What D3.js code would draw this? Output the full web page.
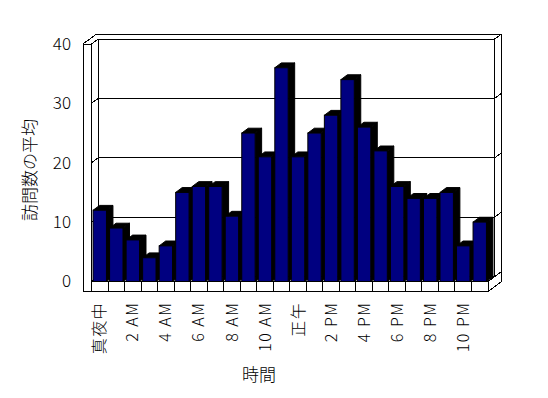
<!DOCTYPE html>
<html>
<head>
<meta charset="utf-8">
<script src="https://cdn.jsdelivr.net/npm/d3@7"></script>
<style>
  body { margin: 0; background: #fff; }
  svg { display: block; }
  .lbl text { font-family: "Noto Sans CJK JP", "Noto Sans", sans-serif; font-size: 16px; font-weight: 300; fill: #000; }
</style>
</head>
<body>
<div id="chart"></div>
<script>
// hours of the day (every other one gets a label)
const hours = ["真夜中", "1 AM", "2 AM", "3 AM", "4 AM", "5 AM", "6 AM", "7 AM", "8 AM", "9 AM", "10 AM", "11 AM",
               "正午", "1 PM", "2 PM", "3 PM", "4 PM", "5 PM", "6 PM", "7 PM", "8 PM", "9 PM", "10 PM", "11 PM"];
const visits = [12, 9, 7, 4, 6, 15, 16, 16, 11, 25, 21, 36, 21, 25, 28, 34, 26, 22, 16, 14, 14, 15, 6, 10];
const yTicks = [0, 10, 20, 30, 40];
const xTickLabels = ["真夜中", "2 AM", "4 AM", "6 AM", "8 AM", "10 AM", "正午", "2 PM", "4 PM", "6 PM", "8 PM", "10 PM"];

const width = 548, height = 398;

const svg = d3.select("#chart").append("svg")
    .attr("width", width)
    .attr("height", height)
    .style("background", "#fff");

// front plane scales
const x = d3.scaleBand().domain(hours).range([91.5, 488]).padding(0);
const y = d3.scaleLinear().domain([0, 40]).range([281.5, 44]);

// 3d depth offset (front -> back of plot), walls are as thick again
const dx = 6.5, dy = -4.85;
const wallLeft = 83;          // outer edge of left wall
const floorBottom = 291.7;    // bottom of floor slab
const x0 = x.range()[0], x1 = x.range()[1];
const yTop = y(40), yZero = y(0);

const frame = svg.append("g")
    .attr("fill", "none")
    .attr("stroke", "#000")
    .attr("stroke-width", 1)
    .attr("shape-rendering", "crispEdges");

function seg(g, pts) {
    g.append("path").attr("d", d3.line()(pts));
}

// back wall + walls outline
seg(frame, [[wallLeft, yTop], [wallLeft + 2 * dx, yTop + 2 * dy], [x1 + 2 * dx, yTop + 2 * dy], [x1 + 2 * dx, yZero + 2 * dy]]);
seg(frame, [[x0, yTop], [x0 + dx, yTop + dy], [x1 + dx, yTop + dy], [x1 + 2 * dx, yTop + 2 * dy]]);
seg(frame, [[x0 + dx, yTop + dy], [x0 + dx, yZero + dy], [x1 + dx, yZero + dy], [x1 + dx, yTop + dy]]);

// gridlines: tick on wall front, wall inner face, back wall, right end
yTicks.forEach(t => {
    const yy = y(t);
    seg(frame, [[wallLeft, yy], [x0, yy], [x0 + dx, yy + dy], [x1 + dx, yy + dy], [x1 + 2 * dx, yy + 2 * dy]]);
});

// bars, drawn left to right so each hides the previous side face
const bw = x.bandwidth() * 0.81;
const bo = (x.bandwidth() - bw) / 2;
const bars = svg.append("g")
    .attr("stroke", "#000")
    .attr("stroke-width", 1)
    .attr("stroke-linejoin", "miter");

hours.forEach((h, i) => {
    const v = visits[i];
    const a = x(h) + bo, b = a + bw;
    const t = y(v), base = y(0);
    const g = bars.append("g");
    // side
    g.append("path")
        .attr("fill", "#000")
        .attr("d", d3.line()([[b, t], [b + dx, t + dy], [b + dx, base + dy], [b, base]]) + "Z");
    // top
    g.append("path")
        .attr("fill", "#000")
        .attr("d", d3.line()([[a, t], [b, t], [b + dx, t + dy], [a + dx, t + dy]]) + "Z");
    // front
    g.append("rect")
        .attr("x", a).attr("y", t)
        .attr("width", bw).attr("height", base - t)
        .attr("fill", "#000080");
});

// floor front face and left wall front face
const front = svg.append("g")
    .attr("fill", "#fff")
    .attr("stroke", "#000")
    .attr("stroke-width", 1)
    .attr("shape-rendering", "crispEdges");

front.append("rect")
    .attr("x", wallLeft).attr("y", yTop)
    .attr("width", x0 - wallLeft).attr("height", floorBottom - yTop);
front.append("rect")
    .attr("x", x0).attr("y", yZero)
    .attr("width", x1 - x0).attr("height", floorBottom - yZero);
// category dividers on floor front
front.selectAll("line.div")
    .data(hours.slice(1))
    .join("line")
    .attr("class", "div")
    .attr("x1", d => x(d)).attr("x2", d => x(d))
    .attr("y1", yZero).attr("y2", floorBottom);
// floor right end
seg(front.append("g").attr("fill", "none"), [[x1, floorBottom], [x1 + 2 * dx, floorBottom + 2 * dy], [x1 + 2 * dx, yZero + 2 * dy]]);
seg(front.append("g").attr("fill", "none"), [[x1, yZero], [x1 + dx, yZero + dy]]);

// y axis labels
const yAxis = svg.append("g")
    .attr("class", "lbl")
    .attr("transform", `translate(${wallLeft},0)`)
    .call(d3.axisLeft(y).tickValues(yTicks).tickSize(0).tickPadding(12));
yAxis.select(".domain").remove();
yAxis.selectAll("text").attr("font-family", null).attr("font-size", null)
    .style("font-size", "17px");

// x axis labels, rotated
const xAxis = svg.append("g")
    .attr("class", "lbl")
    .attr("transform", `translate(0,${floorBottom})`)
    .call(d3.axisBottom(x).tickSize(0).tickFormat(d => xTickLabels.includes(d) ? d : ""));
xAxis.select(".domain").remove();
xAxis.selectAll("text")
    .attr("font-family", null).attr("font-size", null)
    .attr("transform", "rotate(-90)")
    .attr("x", -10)
    .attr("y", 0)
    .attr("dy", "0.35em")
    .attr("text-anchor", "end")
    .style("letter-spacing", "1.5px");

// axis titles
svg.append("g").attr("class", "lbl")
    .append("text")
    .attr("transform", "translate(30,170) rotate(-90)")
    .attr("text-anchor", "middle")
    .attr("dy", "0.35em")
    .style("font-size", "17px")
    .text("訪問数の平均");

svg.append("g").attr("class", "lbl")
    .append("text")
    .attr("x", 259)
    .attr("y", 375)
    .attr("text-anchor", "middle")
    .attr("dy", "0.35em")
    .style("font-size", "17px")
    .text("時間");
</script>
</body>
</html>
